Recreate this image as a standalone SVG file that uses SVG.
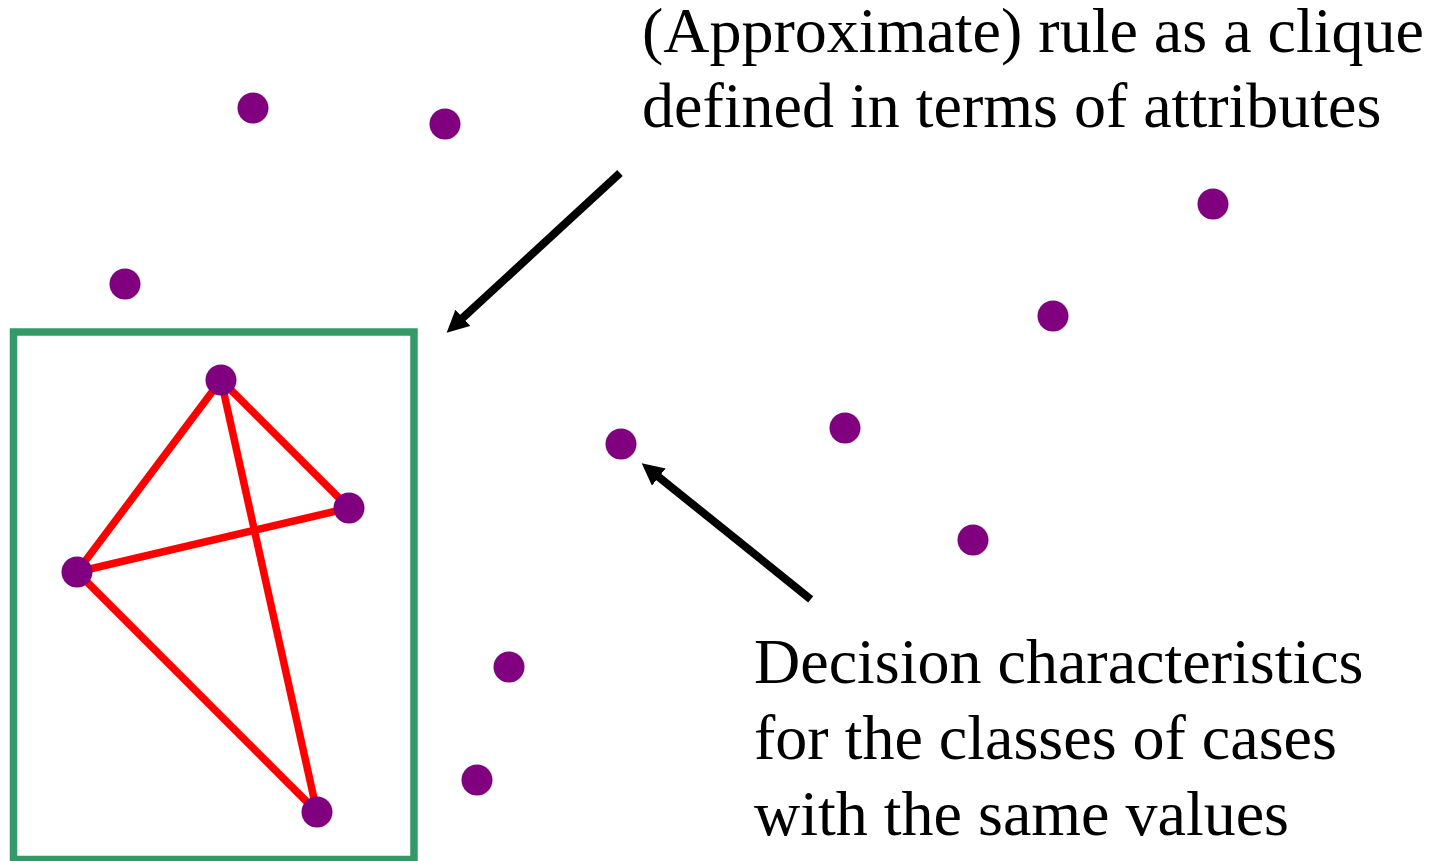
<svg xmlns="http://www.w3.org/2000/svg" width="1432" height="861" viewBox="0 0 1432 861">
<style>
.dot{fill:#800080}
.edge{stroke:#ff0000;stroke-width:7.5;fill:none}
.arrow{stroke:#000;stroke-width:8;fill:none;marker-end:url(#ah)}
.lbl{font-family:"Liberation Serif","Times New Roman",serif;font-size:64px;fill:#000}
</style>
<defs>
<marker id="ah" viewBox="0 0 10 10" refX="2" refY="5" markerWidth="2.75" markerHeight="2.75" orient="auto" markerUnits="strokeWidth">
<path d="M0,0 L10,5 L0,10 z" fill="#000"/>
</marker>
</defs>
<rect width="1432" height="861" fill="#fff"/>
<g id="frame">
<rect x="13.5" y="332" width="400.5" height="527.5" fill="none" stroke="#339966" stroke-width="7.5"/>
</g>
<g id="connectors">
<line class="edge" x1="221" y1="380" x2="349" y2="508"/>
<line class="edge" x1="221" y1="380" x2="77" y2="572"/>
<line class="edge" x1="221" y1="380" x2="317" y2="812"/>
<line class="edge" x1="77" y1="572" x2="349" y2="508"/>
<line class="edge" x1="77" y1="572" x2="317" y2="812"/>
<line class="arrow" x1="620" y1="173" x2="459.6" y2="320.8"/>
<line class="arrow" x1="810.7" y1="599.3" x2="655.4" y2="474.3"/>
</g>
<g id="n-c1"><circle class="dot" cx="221" cy="380" r="15.5"/></g>
<g id="n-c2"><circle class="dot" cx="349" cy="508" r="15.5"/></g>
<g id="n-c3"><circle class="dot" cx="77" cy="572" r="15.5"/></g>
<g id="n-c4"><circle class="dot" cx="317" cy="812" r="15.5"/></g>
<g id="n-p1"><circle class="dot" cx="253" cy="108" r="15.5"/></g>
<g id="n-p2"><circle class="dot" cx="445" cy="124" r="15.5"/></g>
<g id="n-p3"><circle class="dot" cx="125" cy="284" r="15.5"/></g>
<g id="n-p4"><circle class="dot" cx="1213" cy="204" r="15.5"/></g>
<g id="n-p5"><circle class="dot" cx="1053" cy="316" r="15.5"/></g>
<g id="n-p6"><circle class="dot" cx="845" cy="428" r="15.5"/></g>
<g id="n-p7"><circle class="dot" cx="621" cy="444" r="15.5"/></g>
<g id="n-p8"><circle class="dot" cx="973" cy="540" r="15.5"/></g>
<g id="n-p9"><circle class="dot" cx="509" cy="667" r="15.5"/></g>
<g id="n-p10"><circle class="dot" cx="477" cy="780" r="15.5"/></g>
<g id="label-top">
<text class="lbl" x="642" y="52">(Approximate) rule as a clique</text>
<text class="lbl" x="642" y="127">defined in terms of attributes</text>
</g>
<g id="label-bottom">
<text class="lbl" x="754" y="683">Decision characteristics</text>
<text class="lbl" x="754" y="759">for the classes of cases</text>
<text class="lbl" x="754" y="835">with the same values</text>
</g>
</svg>
